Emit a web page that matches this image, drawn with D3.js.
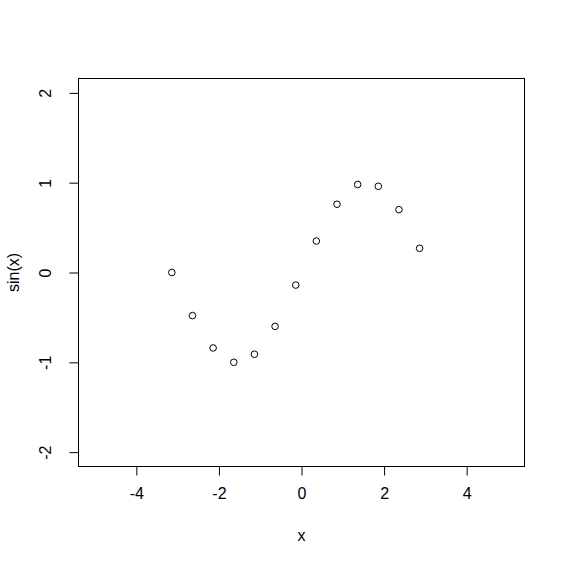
<html>
<head>
<meta charset="utf-8">
<style>
  body { margin: 0; background: white; }
  text { font-family: "Liberation Sans", Arial, sans-serif; fill: black; }
</style>
</head>
<body>
<div id="chart"></div>
<script src="https://d3js.org/d3.v7.min.js"></script>
<script>
// data
var xVals = [-3.14, -2.64, -2.14, -1.64, -1.14, -0.64, -0.14, 0.36, 0.86, 1.36, 1.86, 2.36, 2.86];
var yVals = [0.00, -0.48, -0.84, -1.00, -0.91, -0.60, -0.14, 0.35, 0.76, 0.98, 0.96, 0.70, 0.27];
var xTicks = [-4, -2, 0, 2, 4];
var yTicks = [-2, -1, 0, 1, 2];

var width = 565, height = 564;
var mLeft = 78.5, mRight = 524.5, mTop = 78.5, mBottom = 466.5;

var svg = d3.select("#chart").append("svg")
  .attr("width", width).attr("height", height);

var x = d3.scaleLinear().domain([-5.4, 5.4]).range([mLeft, mRight]);
var y = d3.scaleLinear().domain([-2.16, 2.16]).range([mBottom, mTop]);

// plain hyphen like R does
var fmt = function (d) { return String(d); };

// box
svg.append("rect")
  .attr("x", mLeft).attr("y", mTop)
  .attr("width", mRight - mLeft).attr("height", mBottom - mTop)
  .attr("fill", "none").attr("stroke", "black").attr("stroke-width", 1);

// x axis
var xAxis = svg.append("g").attr("transform", "translate(0," + mBottom + ")")
  .call(d3.axisBottom(x).tickValues(xTicks).tickSize(9).tickPadding(12).tickFormat(fmt));
xAxis.select(".domain").remove();
xAxis.selectAll("line").attr("stroke", "black");
xAxis.selectAll("text").style("font-size", "16px").style("font-family", "Liberation Sans, Arial, sans-serif");

// y axis
var yAxis = svg.append("g").attr("transform", "translate(" + mLeft + ",0)")
  .call(d3.axisLeft(y).tickValues(yTicks).tickSize(9).tickFormat(fmt));
yAxis.select(".domain").remove();
yAxis.selectAll("line").attr("stroke", "black");
yAxis.selectAll("text")
  .attr("x", null).attr("dy", null)
  .attr("text-anchor", "middle")
  .attr("transform", "translate(-28,0) rotate(-90)")
  .style("font-size", "16px").style("font-family", "Liberation Sans, Arial, sans-serif");

// points
svg.append("g").selectAll("circle")
  .data(xVals)
  .enter()
  .append("circle")
  .attr("cx", function (d) { return x(d); })
  .attr("cy", function (d, i) { return y(yVals[i]); })
  .attr("r", 3.3)
  .attr("fill", "none")
  .attr("stroke", "black")
  .attr("stroke-width", 1);

// axis titles
svg.append("text")
  .attr("x", (mLeft + mRight) / 2).attr("y", 541)
  .attr("text-anchor", "middle")
  .style("font-size", "16px")
  .text("x");

svg.append("text")
  .attr("transform", "translate(19," + (mTop + mBottom) / 2 + ") rotate(-90)")
  .attr("text-anchor", "middle")
  .style("font-size", "16px")
  .text("sin(x)");
</script>
</body>
</html>
